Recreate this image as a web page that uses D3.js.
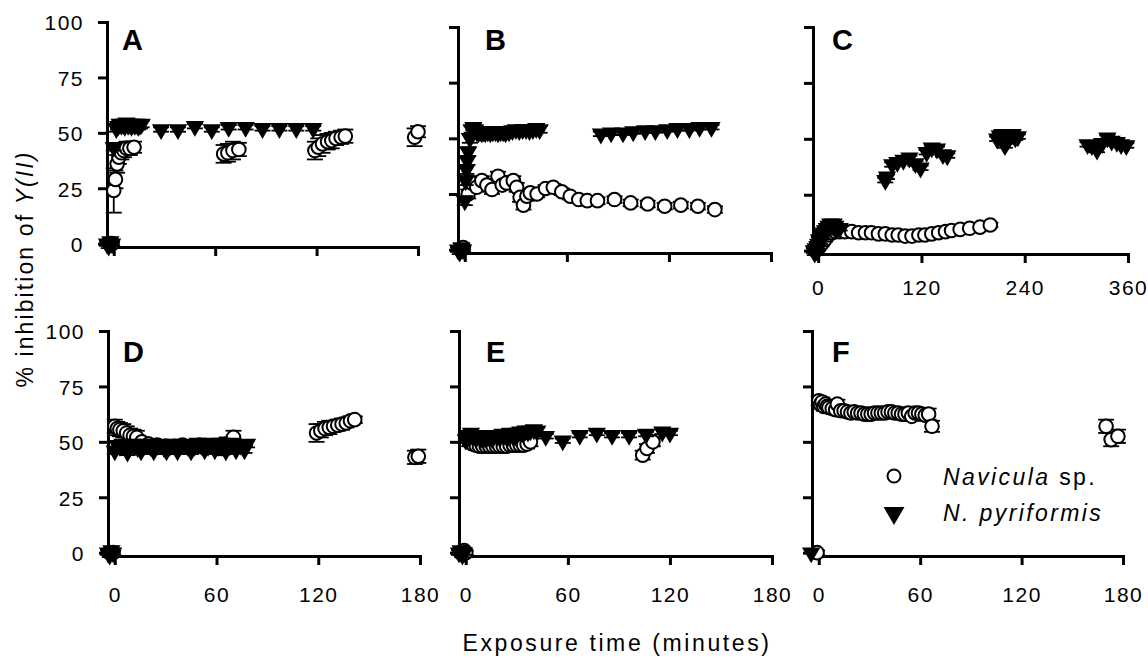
<!DOCTYPE html>
<html>
<head>
<meta charset="utf-8">
<script src="https://cdn.jsdelivr.net/npm/d3@7"></script>
<style>
  body { margin: 0; background: #fff; }
  svg text { font-family: "Liberation Sans", Arial, sans-serif; fill: #000; }
</style>
</head>
<body>
<svg id="chart" width="1148" height="658"></svg>
<script>
// [minutes, % inhibition, error]
const navA = [[-2,0,1],[-1,0,1],[0,24,10],[1,29,4],[2,36,4],[3,39,3],[4.5,41,3],[6,42,3],[7.5,43,3],[9.5,43,3],[12,43.5,2.5],
  [65,40.5,4],[67.5,41,4],[70.5,42,4],[74,42.5,3],
  [119,42,4],[121,43.5,4],[123.5,45,4],[126.5,46,3.5],[129,46.5,3.5],[131.5,47.5,3],[134.5,48,3],[137,48.5,3],
  [178,48,4],[180,50.5,2.5]];
const pyrA = [[-4,0,1],[-3,-1,1],[-2,1,1],[-1,0,1],[0,43.5,1.5],[1.5,52,1.5],[2.5,53,1.5],[3.5,54,1.5],[4.5,53.5,1.5],
  [5.5,54,1.5],[6.5,53,1.5],[7.5,54.5,1.5],[8.5,53.5,1.5],[9.5,54,1.5],[10.5,53,1.5],[11.5,54,1.5],[12.5,53.5,1.5],
  [13.5,54,1.5],[14.5,53,1.5],[15.5,53.5,1.5],[16.5,54,1.5],
  [28,51.5,1],[38,51.5,1],[48,53,1],[58,51.5,1],[68,52.5,1],[78,52.5,1],[88,52,1],[98,52,1],[108,52,1],[118,52,1]];

const navB = [[-2,0,1],[-1,1,1],[2,25,2],[4,30,2],[7,28,2],[10,31,2],[13,29,2],[16,27,2],[19.5,33,2],[22,29,2],
  [24.5,30,2],[28.5,31,2],[30.5,28,2],[32.5,23.5,2],[34.5,20,2],[36.5,24,2],[38.5,25.5,1.5],[42.5,25,1.5],
  [47.5,27.5,1.5],[52,28,1.5],[57,26,1.5],[62,24,1.5],[67,22.5,1.5],[72,22,1.5],[78,22,1.5],[88,22.5,1.5],
  [97.5,21,1.5],[107.5,20.5,1.5],[117.5,19.5,1.5],[127,20,1.5],[137,19.5,1.5],[147,18,1.5]];
const pyrB = [[-4,0,1],[-3,-1,1],[-2,1,1],[-1,0,1],[0,22,2],[0.5,31,2],[1,36,2],[1.5,40,2],[2,44,2],[3,50,2],
  [4,54,1.5],[5,55,1.5],[6,54,1.5],[7,53,1.5],[8,52.5,1.5],[9,53,1.5],[10,52.5,1.5],[11,53,1.5],[12,52.5,1.5],
  [13.5,53,1.5],[15,52.5,1.5],[16.5,53,1.5],[18,53,1.5],[19.5,52.5,1.5],[21,53,1.5],[22.5,53,1.5],[24,52.5,1.5],
  [26,53,1.5],[28,53.5,1.5],[30,54,1.5],[32,53.5,1.5],[34,54,1.5],[36,54,1.5],[38,53.5,1.5],[40,54,1.5],
  [42,54.5,1.5],[44,54,1.5],
  [80,52,1],[86,52.5,1],[93,52.5,1],[99,53,1],[106,53.5,1],[112,53.5,1],[119,54,1],[125,54.5,1],[132,54.5,1],
  [138,55,1],[145,55,1]];

const navC = [[-3,0,1],[0,1,1],[4,3,1],[8,5,1],[12,7,1],[16,8,1],[20,8.5,1],[25,8.5,1],
  [31,8.5,1],[39,8.5,1],[47,8,1],[55,8,1],[62,8,1],[70,7.5,1],[78,7.5,1],[86,7,1],[93,7,1],[101,6.5,1],
  [109,6.5,1],[117,7,1],[124,7,1],[132,7.5,1],[140,8,1],[148,8.5,1],[155,9,1],[165,9.5,1],[176,10,1],
  [188,10.5,1],[200,11.5,1]];
const pyrC = [[-5,0,1],[-4,-1,1],[-3,1,1],[-2,0,1],[-1,2,1],[0,3,1],[1,5,1],[2,4,1],[3,6,1],[4,7,1],[5,6,1],
  [6,8,1],[8,9,1],[10,10,1],[12,11,1],[14,12,1],[16,11,1],[18,12,1],[20,11,1],[22,10,1],[25,10,1],
  [78,31.5,1],[80,33,1],[86,38.5,1],[92,39.5,1],[99,40.5,1],[106,41.5,1],[113,39,1],[119,37,1],[126,44,1],
  [132,46,1],[138,45.5,1],[145,43,1],[150,42.5,1],
  [208,50,1],[211,51.5,1],[214,52,1],[217,47,1],[220,49,1],[223,51,1],[226,52,1],[229,50.5,1],[232,51,1],
  [313,47.5,1],[318,47,1],[324,45,1],[330,48,1],[336,50.5,1],[341,49,1],[347,48.5,1],[352,47.5,1],[358,47,1]];

const navD = [[-3,0,1],[-1,0,1],[0,57,3],[1.5,56,3],[3,55.5,3],[5,55,3],[7,54,3],[9,53,3],[11,52.5,3],[13,52,3],
  [16,50,2],[20,49,2],[25,48.5,2],[30,48,2],[35,48,2],[40,48.5,2],[45,48,2],[50,48.5,2],[55,48,2],[60,47.5,3],
  [63,47,3],[66,49,3],[70,52,3],
  [119,54,4],[121.5,55,3],[124,56,3],[126.5,56.5,3],[129,57,2.5],[131.5,57.5,2.5],[134,58,2.5],[136.5,58.5,2],
  [139,59.5,2],[141.5,60,1.5],
  [177,43,3],[179,43.5,3]];
const pyrD = [[-4,0,1],[-3,-1,1],[-2,1,1],[-1,0,1],[0,46,1.5],[1.5,48.5,1.5],[3,48,1.5],[4.5,49,1.5],[6,48,1.5],
  [7.5,45.5,1.5],[9,48,1.5],[10.5,49,1.5],[12,48.5,1.5],[13.5,47.5,1.5],[15.5,46,1.5],[17,48,1.5],[19,49,1.5],
  [21,48,1.5],[23,46,1.5],[25,48.5,1.5],[27,49,1.5],[29,47.5,1.5],[30.5,46,1.5],[32.5,48,1.5],[34.5,49,1.5],
  [37,46,1.5],[39,48.5,1.5],[41,49,1.5],[43,48,1.5],[45,46,1.5],[47,48,1.5],[49,49.5,1.5],[51,48.5,1.5],
  [53,46.5,1.5],[55,48,1.5],[57,49.5,1.5],[59,46.5,1.5],[61,48,1.5],[63,49.5,1.5],[65.5,46,1.5],[67.5,48.5,1.5],
  [69.5,49.5,1.5],[71.5,46.5,1.5],[74,48.5,1.5],[76.5,46.5,1.5],[78,49,1.5]];

const navE = [[-3,0,1],[-1,1,1],[0,0,1],[2,50,2],[4,49,2],[6,48.5,2],[8,48,2],[10,48,2],[12,48,2],[14,48,2],
  [16,48,2],[18,48,2],[20,48,2],[22,48,2],[24,48,2],[26,48.5,2],[28,48.5,2],[30,48.5,2],[32,48.5,2],
  [34,48.5,2],[36,49,2],[38,50,2],
  [104,44,2],[106.5,47,2],[110,50,2]];
const pyrE = [[-4,0,1],[-3,1,1],[-2,-1,1],[-1,0,1],[0,51,1.5],[1,53,1.5],[2,52,1.5],[3,54,1.5],[4,52.5,1.5],
  [5,53,1.5],[6,51.5,1.5],[7,53,1.5],[8,52.5,1.5],[9,51.5,1.5],[10,53,1.5],[11,52,1.5],[12,51.5,1.5],[13,53,1.5],
  [14,52,1.5],[15.5,51.5,1.5],[17,53,1.5],[18.5,52.5,1.5],[20,52,1.5],[21.5,53.5,1.5],[23,53,1.5],[24.5,52,1.5],
  [26,54,1.5],[27.5,53,1.5],[29,52.5,1.5],[30.5,54,1.5],[32,54.5,1.5],[33.5,54,1.5],[35,55,1.5],[36.5,54.5,1.5],
  [38,55,1.5],[40,55.5,1.5],[42,55,1.5],
  [47,52.5,1],[57,50.5,1],[67,53,1],[77,54,1],[86,53,1],[96,53,1],[106,53.5,1],[115.5,54.5,1],[120,54,1]];

const navF = [[-1,0,1],[0,68.5,2],[1,67,2],[2,68,2],[3,66,2],[4,67,2],[5,66,2],[6,65.5,2],[8,65,2],[10,64.5,2],
  [11,67,2],[13,64,2],[15,64,2],[17,63.5,2],[19,63,2],[21,63.5,2],[23,63,2],[25,63,2],[27,62.5,2],[29,62.5,2],
  [31,62.5,2],[33,63,2],[35,63,2],[37,63,2],[39,63,2],[41,63.5,2],[43,63.5,2],[45,63,2],[47,63,2],[49,62.5,2],
  [51,62.5,2],[53,63,2],[55,61.5,2],[57,63,2],[59,63,2],[61,62.5,2],[63,62,2],[65,62.5,2.5],[67,57,2.5],
  [170,57,3],[173,51,3],[177,52.5,3]];
const pyrF = [[-4.5,0,0]];

const yTicks = [0, 25, 50, 75, 100];
const xTicks180 = [0, 60, 120, 180];
const xTicks360 = [0, 120, 240, 360];

// pixel frame of each panel
const layout = [
  { letter: 'A', nav: navA, pyr: pyrA, left: 107, right: 418, top: 22, bottom: 247, xMin: -4, xMax: 180, xTicks: xTicks180, xLabels: false, yLabels: true, lx: 122, ly: 50 },
  { letter: 'B', nav: navB, pyr: pyrB, left: 458, right: 771, top: 27, bottom: 253, xMin: -4, xMax: 180, xTicks: xTicks180, xLabels: false, yLabels: false, lx: 485, ly: 50 },
  { letter: 'C', nav: navC, pyr: pyrC, left: 813, right: 1128, top: 27, bottom: 254, xMin: -6, xMax: 360, xTicks: xTicks360, xLabels: true, labelPad: 17, yLabels: false, lx: 832, ly: 50 },
  { letter: 'D', nav: navD, pyr: pyrD, left: 108, right: 420, top: 331, bottom: 556, xMin: -4, xMax: 180, xTicks: xTicks180, xLabels: true, labelPad: 22, yLabels: true, lx: 123, ly: 362 },
  { letter: 'E', nav: navE, pyr: pyrE, left: 459, right: 772, top: 331, bottom: 556, xMin: -4, xMax: 180, xTicks: xTicks180, xLabels: true, labelPad: 22, yLabels: false, lx: 486, ly: 362 },
  { letter: 'F', nav: navF, pyr: pyrF, left: 812, right: 1123, top: 331, bottom: 556, xMin: -4, xMax: 180, xTicks: xTicks180, xLabels: true, labelPad: 22, yLabels: false, lx: 832, ly: 362 }
];

const svg = d3.select('#chart');
const tri = d3.symbol().type(d3.symbolTriangle).size(145);
const capW = 8;

function styleAxis(sel) {
  sel.select('.domain').attr('stroke', '#000').attr('stroke-width', 3).attr('stroke-linecap', 'square');
  sel.selectAll('.tick line').attr('stroke', '#000').attr('stroke-width', 3);
  sel.selectAll('.tick text')
    .attr('font-size', 21)
    .attr('letter-spacing', 1.5)
    .attr('fill', '#000');
}

function drawErrors(g, data, x, y) {
  const eb = g.append('g').attr('stroke', '#000').attr('stroke-width', 1.8);
  data.filter(d => d[2] > 0).forEach(d => {
    const cx = x(d[0]), y0 = y(d[1] - d[2]), y1 = y(d[1] + d[2]);
    eb.append('line').attr('x1', cx).attr('x2', cx).attr('y1', y0).attr('y2', y1);
    eb.append('line').attr('x1', cx - capW).attr('x2', cx + capW).attr('y1', y0).attr('y2', y0);
    eb.append('line').attr('x1', cx - capW).attr('x2', cx + capW).attr('y1', y1).attr('y2', y1);
  });
}

layout.forEach(p => {
  const x = d3.scaleLinear().domain([p.xMin, p.xMax]).range([p.left, p.right]);
  const y = d3.scaleLinear().domain([-1.5, 100]).range([p.bottom, p.top]);
  const g = svg.append('g');

  const yAxis = d3.axisLeft(y).tickValues(yTicks).tickSize(9).tickSizeOuter(0).tickPadding(14);
  if (!p.yLabels) yAxis.tickFormat('');
  g.append('g')
    .attr('transform', `translate(${p.left},0)`)
    .call(yAxis)
    .call(styleAxis)
    .call(s => s.selectAll('.tick text').attr('dy', '0.38em'));

  const xAxis = d3.axisBottom(x).tickValues(p.xTicks).tickSize(9).tickSizeOuter(0).tickPadding(p.labelPad || 10);
  if (!p.xLabels) xAxis.tickFormat('');
  g.append('g')
    .attr('transform', `translate(0,${p.bottom})`)
    .call(xAxis)
    .call(styleAxis);

  // Navicula (drawn first), N. pyriformis on top
  drawErrors(g, p.nav, x, y);
  g.append('g').selectAll('circle')
    .data(p.nav)
    .enter()
    .append('circle')
    .attr('cx', d => x(d[0]))
    .attr('cy', d => y(d[1]))
    .attr('r', 6.8)
    .attr('fill', '#fff')
    .attr('stroke', '#000')
    .attr('stroke-width', 2);

  drawErrors(g, p.pyr, x, y);
  g.append('g').selectAll('path')
    .data(p.pyr)
    .enter()
    .append('path')
    .attr('d', tri)
    .attr('transform', d => `translate(${x(d[0])},${y(d[1])}) rotate(180)`)
    .attr('fill', '#000');

  g.append('text')
    .attr('x', p.lx)
    .attr('y', p.ly)
    .attr('font-size', 29)
    .attr('font-weight', 'bold')
    .text(p.letter);
});

// axis titles
const yTitle = svg.append('text')
  .attr('transform', 'translate(33,269) rotate(-90)')
  .attr('text-anchor', 'middle')
  .attr('font-size', 23)
  .attr('letter-spacing', 2.1);
yTitle.append('tspan').text('% inhibition of ');
yTitle.append('tspan').attr('font-style', 'italic').text('Y(II)');

svg.append('text')
  .attr('x', 617)
  .attr('y', 651)
  .attr('text-anchor', 'middle')
  .attr('font-size', 23)
  .attr('letter-spacing', 2.6)
  .text('Exposure time (minutes)');

// legend inside panel F
const leg = svg.append('g');
leg.append('circle').attr('cx', 894).attr('cy', 476).attr('r', 6.5)
  .attr('fill', '#fff').attr('stroke', '#000').attr('stroke-width', 2);
leg.append('path').attr('d', d3.symbol().type(d3.symbolTriangle).size(190))
  .attr('transform', 'translate(894,513) rotate(180)').attr('fill', '#000');
const l1 = leg.append('text').attr('x', 943).attr('y', 485).attr('font-size', 23).attr('letter-spacing', 2.4);
l1.append('tspan').attr('font-style', 'italic').text('Navicula');
l1.append('tspan').text(' sp.');
leg.append('text').attr('x', 943).attr('y', 521).attr('font-size', 23).attr('letter-spacing', 2.4)
  .attr('font-style', 'italic').text('N. pyriformis');
</script>
</body>
</html>
